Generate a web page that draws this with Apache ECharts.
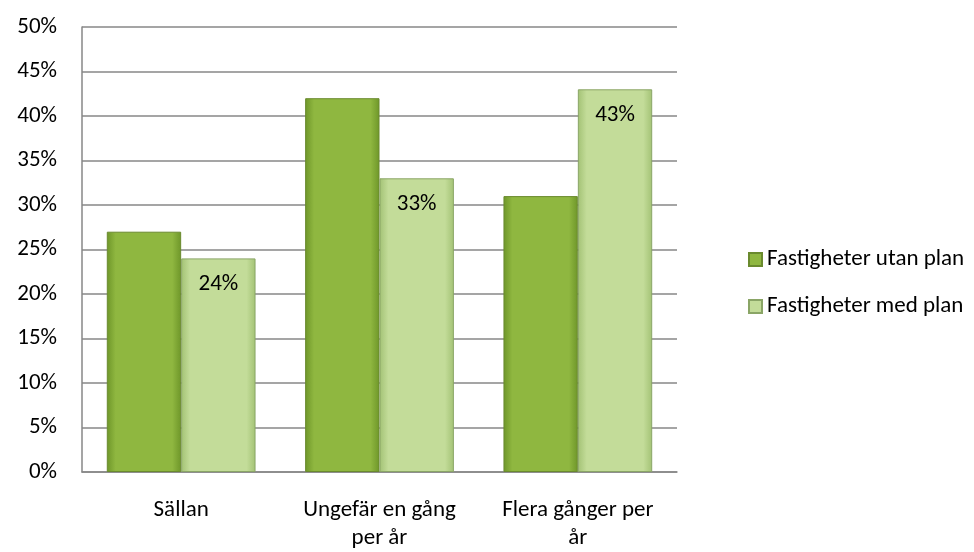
<!DOCTYPE html>
<html>
<head>
<meta charset="utf-8">
<script src="https://cdn.jsdelivr.net/npm/echarts@6/dist/echarts.min.js"></script>
<style>
  html, body { margin: 0; padding: 0; background: #ffffff; }
  #chart { width: 974px; height: 552px; }
</style>
</head>
<body>
<div id="chart"></div>
<script>
// kategorier och värden (procent)
var categories = ['Sällan', 'Ungefär en gång\nper år', 'Flera gånger per\når'];
var utanPlan = [27, 42, 31];
var medPlan = [24, 33, 43];
var yTicks = [0, 5, 10, 15, 20, 25, 30, 35, 40, 45, 50];

var font = 'Carlito, Lato, "Open Sans", sans-serif';
var fs = 23;

function barFill(edge, mid) {
  return new echarts.graphic.LinearGradient(0, 0, 1, 0, [
    { offset: 0, color: edge },
    { offset: 0.12, color: mid },
    { offset: 0.88, color: mid },
    { offset: 1, color: edge }
  ]);
}

var chart = echarts.init(document.getElementById('chart'));

var option = {
  backgroundColor: '#ffffff',
  animation: false,
  textStyle: { fontFamily: font },
  grid: {
    left: 82,
    right: 297,
    top: 27,
    bottom: 79
  },
  legend: {
    orient: 'vertical',
    left: 743,
    top: 243,
    itemWidth: 13,
    itemHeight: 13,
    itemGap: 24,
    icon: 'rect',
    textStyle: { fontSize: fs, color: '#000000', fontFamily: font },
    data: ['Fastigheter utan plan', 'Fastigheter med plan']
  },
  xAxis: {
    type: 'category',
    data: categories,
    axisLine: { lineStyle: { color: '#878787', width: 1.5 } },
    axisTick: { show: false },
    axisLabel: {
      color: '#000000',
      fontSize: fs,
      lineHeight: 28,
      margin: 24,
      interval: 0,
      hideOverlap: false,
      fontFamily: font
    }
  },
  yAxis: {
    type: 'value',
    min: 0,
    max: 50,
    interval: 5,
    axisLine: { show: true, lineStyle: { color: '#878787', width: 1.5 } },
    axisTick: { show: false },
    splitLine: { lineStyle: { color: '#878787', width: 1.5 } },
    axisLabel: {
      color: '#000000',
      fontSize: fs,
      margin: 25,
      fontFamily: font,
      formatter: function (v) { return yTicks.indexOf(v) >= 0 ? v + '%' : ''; }
    }
  },
  series: [{
    name: 'Fastigheter utan plan',
    type: 'bar',
    barGap: '0%',
    barCategoryGap: '25%',
    data: utanPlan,
    itemStyle: {
      color: barFill('#6e9629', '#8fb740'),
      borderColor: '#6a8a2e',
      borderWidth: 1
    }
  }, {
    name: 'Fastigheter med plan',
    type: 'bar',
    data: medPlan,
    itemStyle: {
      color: barFill('#a3c275', '#c3dc99'),
      borderColor: '#8aa566',
      borderWidth: 1
    },
    label: {
      show: true,
      position: 'insideTop',
      distance: 14,
      color: '#000000',
      fontSize: fs,
      fontFamily: font,
      formatter: '{c}%'
    }
  }]
};

chart.setOption(option);
</script>
</body>
</html>
